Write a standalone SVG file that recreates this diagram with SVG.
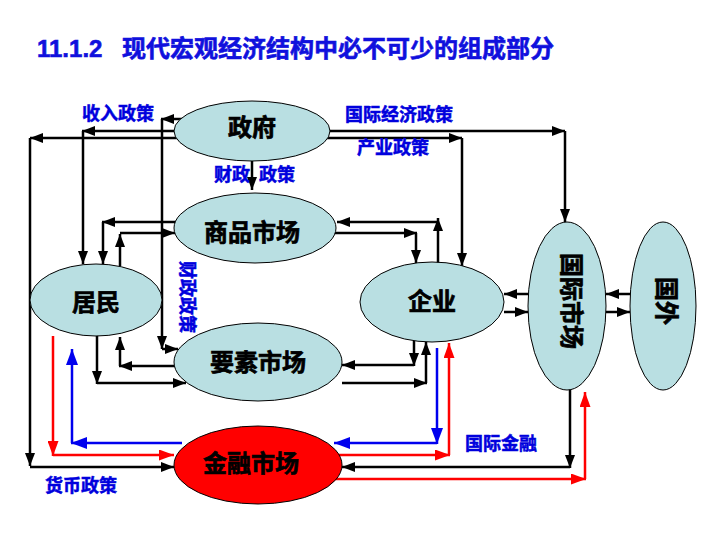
<svg xmlns="http://www.w3.org/2000/svg" width="720" height="540" viewBox="0 0 720 540">
<defs>
<style>
.ln{fill:none;stroke:#000;stroke-width:2.5;marker-end:url(#ak)}
.lr{fill:none;stroke:#f00;stroke-width:2.5;marker-end:url(#ar)}
.lb{fill:none;stroke:#0000ee;stroke-width:2.5;marker-end:url(#ab)}
.nd{fill:#b9dfe2;stroke:#000;stroke-width:1}
.fin{fill:#ff0000;stroke:#000;stroke-width:1}
.nt{font-family:"Liberation Sans","Noto Sans CJK SC",sans-serif;font-weight:bold;font-size:24px;fill:#000;stroke:#000;stroke-width:0.7;text-anchor:middle;dominant-baseline:central}
.lbl{font-family:"Liberation Sans","Noto Sans CJK SC",sans-serif;font-weight:bold;font-size:18px;fill:#0000dd;stroke:#0000dd;stroke-width:0.5;dominant-baseline:central}
.ttl{font-family:"Liberation Sans","Noto Sans CJK SC",sans-serif;font-weight:bold;font-size:24px;fill:#1010dd;stroke:#1010dd;stroke-width:0.6;dominant-baseline:central}
</style>
<marker id="ak" markerUnits="userSpaceOnUse" markerWidth="13" markerHeight="10" refX="13" refY="5" orient="auto"><path d="M0,0L13,5L0,10z" fill="#000"/></marker>
<marker id="ar" markerUnits="userSpaceOnUse" markerWidth="15" markerHeight="11" refX="15" refY="5.5" orient="auto"><path d="M0,0L15,5.5L0,11z" fill="#f00"/></marker>
<marker id="ab" markerUnits="userSpaceOnUse" markerWidth="16" markerHeight="12" refX="16" refY="6" orient="auto"><path d="M0,0L16,6L0,12z" fill="#0000ee"/></marker>
</defs>
<rect width="720" height="540" fill="#fff"/>
<text class="ttl" x="37" y="48">11.1.2<tspan x="122">现代宏观经济结构中必不可少的组成部分</tspan></text>

<g id="connectors">
<!-- 收入政策 -->
<path class="ln" d="M200,131H82"/>
<path class="ln" d="M83,131V264"/>
<!-- 货币政策 -->
<path class="ln" d="M200,138H30"/>
<path class="ln" d="M30,138V466"/>
<path class="ln" d="M30,467H174"/>
<!-- 财政政策 to 要素市场 -->
<path class="ln" d="M200,119H161"/>
<path class="ln" d="M162,119V349"/>
<path class="ln" d="M162,349H178"/>
<!-- 政府 to 商品市场 -->
<path class="ln" d="M252,158V190"/>
<!-- 国际经济政策 / 产业政策 -->
<path class="ln" d="M300,131H565"/>
<path class="ln" d="M565,131V222"/>
<path class="ln" d="M300,138H462"/>
<path class="ln" d="M462,138V266"/>
<!-- 商品市场 <-> 居民 -->
<path class="ln" d="M176,222H102"/>
<path class="ln" d="M103,222V264"/>
<path class="ln" d="M120,266V234"/>
<path class="ln" d="M120,233H175"/>
<!-- 商品市场 <-> 企业 -->
<path class="ln" d="M438,263V218"/>
<path class="ln" d="M438,222H337"/>
<path class="ln" d="M334,233H417"/>
<path class="ln" d="M416,233V263"/>
<!-- 要素市场 <-> 居民 -->
<path class="ln" d="M176,366H119"/>
<path class="ln" d="M120,366V337"/>
<path class="ln" d="M97,335V384"/>
<path class="ln" d="M97,383H186"/>
<!-- 要素市场 <-> 企业 -->
<path class="ln" d="M414,341V366"/>
<path class="ln" d="M414,365H342"/>
<path class="ln" d="M342,383H427"/>
<path class="ln" d="M426,383V342"/>
<!-- 金融市场 <-> 居民 -->
<path class="lr" d="M53,336V456"/>
<path class="lr" d="M53,455H174"/>
<path class="lb" d="M182,443H71"/>
<path class="lb" d="M72,443V349"/>
<!-- 金融市场 <-> 企业 -->
<path class="lb" d="M437,348V444"/>
<path class="lb" d="M437,443H334"/>
<path class="lr" d="M334,455H450"/>
<path class="lr" d="M449,455V343"/>
<!-- 金融市场 <-> 国际市场 -->
<path class="ln" d="M570,389V468"/>
<path class="ln" d="M570,467H342"/>
<path class="lr" d="M334,479H586"/>
<path class="lr" d="M585,479V392"/>
<!-- 企业 <-> 国际市场 -->
<path class="ln" d="M528,294H504"/>
<path class="ln" d="M504,312H528"/>
<!-- 国际市场 <-> 国外 -->
<path class="ln" d="M630,294H606"/>
<path class="ln" d="M606,312H630"/>
</g>

<g id="gov"><ellipse class="nd" cx="252" cy="131" rx="78" ry="30"/><text class="nt" x="252" y="127">政府</text></g>
<g id="goods"><ellipse class="nd" cx="255" cy="228" rx="81" ry="35"/><text class="nt" x="252" y="232">商品市场</text></g>
<g id="resident"><ellipse class="nd" cx="96" cy="300" rx="66" ry="36"/><text class="nt" x="96" y="302">居民</text></g>
<g id="factor"><ellipse class="nd" cx="258" cy="362" rx="84" ry="39"/><text class="nt" x="258" y="362">要素市场</text></g>
<g id="firm"><ellipse class="nd" cx="432" cy="302" rx="72" ry="40"/><text class="nt" x="432" y="301">企业</text></g>
<g id="intl"><ellipse class="nd" cx="567" cy="306" rx="39" ry="84"/><text class="nt" transform="translate(571,301) rotate(90)">国际市场</text></g>
<g id="foreign"><ellipse class="nd" cx="663" cy="306" rx="33" ry="84"/><text class="nt" transform="translate(666,301) rotate(90)">国外</text></g>
<g id="finance"><ellipse class="fin" cx="258" cy="465" rx="84" ry="39"/><text class="nt" x="251" y="463">金融市场</text></g>

<g id="labels">
<text class="lbl" x="82" y="114">收入政策</text>
<text class="lbl" x="345" y="115">国际经济政策</text>
<text class="lbl" x="357" y="148">产业政策</text>
<text class="lbl" x="214" y="175">财政<tspan x="259">政策</tspan></text>
<text class="lbl" text-anchor="middle" transform="translate(187,297) rotate(90)">财政政策</text>
<text class="lbl" x="465" y="444">国际金融</text>
<text class="lbl" x="45" y="486">货币政策</text>
</g>
</svg>
